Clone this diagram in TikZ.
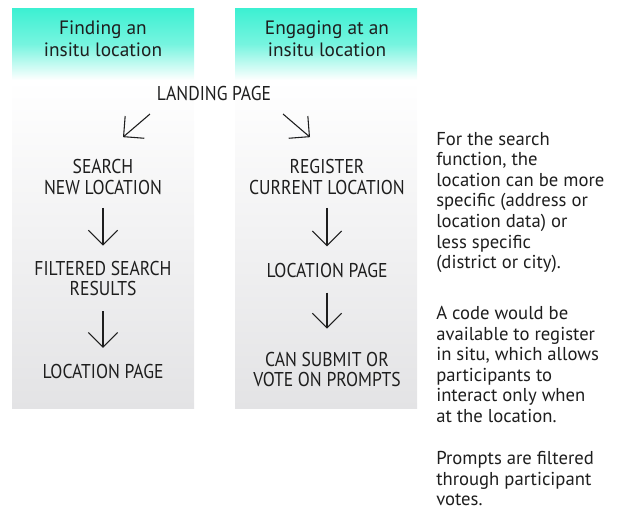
\documentclass[tikz,border=0pt]{standalone}
\usepackage{fontspec}
\setmainfont{PT Sans}
\newfontfamily\capsfont{PT Sans}[FakeStretch=0.88]
\usetikzlibrary{arrows.meta}
\definecolor{headteal}{HTML}{3CF0D2}
\definecolor{colgray}{HTML}{E3E3E5}
\definecolor{ink}{HTML}{1E1E1E}
\begin{document}
\begin{tikzpicture}[x=0.75pt,y=-0.75pt,
    lbl/.style={align=center,inner sep=0pt,text=ink,font=\capsfont\fontsize{15}{15.5}\selectfont},
    head/.style={align=center,inner sep=0pt,text=ink,font=\fontsize{14.5}{16.5}\selectfont},
    note/.style={align=left,anchor=north west,inner sep=0pt,text=ink,font=\fontsize{14}{15.4}\selectfont},
    arr/.style={draw=ink,line width=0.8pt,-{Straight Barb[length=11pt,width=22pt]}}]
  \useasboundingbox (0,0) rectangle (619,515);
  \foreach \x in {12,235}{
    \shade[top color=headteal,bottom color=white,middle color=headteal!70!white] (\x,8) rectangle ++(182,72);
    \shade[top color=white,bottom color=colgray] (\x,80) rectangle ++(182,328);
  }
  \node[head] (findhead) at (103,38.5) {Finding an\\insitu location};
  \node[head] (engagehead) at (327,38.5) {Engaging at an\\insitu location};
  \node[lbl] (landing) at (214,93.5) {LANDING PAGE};
  \node[lbl] (search) at (103,177) {SEARCH\\NEW LOCATION};
  \node[lbl] (filtered) at (103,278.5) {FILTERED SEARCH\\RESULTS};
  \node[lbl] (locleft) at (103,371.5) {LOCATION PAGE};
  \node[lbl] (register) at (327,177) {REGISTER\\CURRENT LOCATION};
  \node[lbl] (locright) at (327,270) {LOCATION PAGE};
  \node[lbl] (submit) at (327,369.5) {CAN SUBMIT OR\\VOTE ON PROMPTS};
  \draw[arr] ([shift={(-64,13)}]landing.south) -- ([shift={(20,-22)}]search.north);
  \draw[arr] ([shift={(69,13)}]landing.south) -- ([shift={(-17,-22)}]register.north);
  \draw[arr,shorten <=9.75pt,shorten >=11.25pt] (search) -- (filtered);
  \draw[arr,shorten <=11.25pt,shorten >=12pt] (filtered) -- (locleft);
  \draw[arr,shorten <=9.75pt,shorten >=12pt] (register) -- (locright);
  \draw[arr,shorten <=11.25pt,shorten >=17.25pt] (locright) -- (submit);
  \node[note] (searchnote) at (436,132) {For the search\\function, the\\location can be more\\specific (address or\\location data) or\\less specific\\(district or city).};
  \node[note] (codenote) at (436,306) {A code would be\\available to register\\in situ, which allows\\participants to\\interact only when\\at the location.};
  \node[note] (promptnote) at (436,451) {Prompts are filtered\\through participant\\votes.};
\end{tikzpicture}
\end{document}
